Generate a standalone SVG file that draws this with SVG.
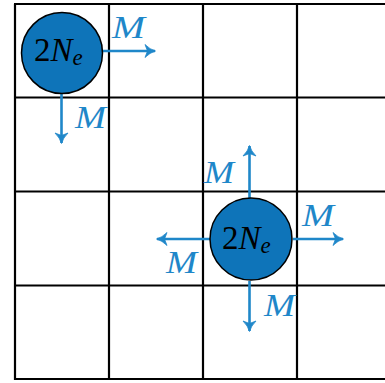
<svg xmlns="http://www.w3.org/2000/svg" width="385" height="383" viewBox="0 0 385 383">
<style>
.grid{stroke:#000;stroke-width:2.2;fill:none}
.node{fill:#0e74b9;stroke:#000;stroke-width:1.5}
.lab{font-family:"Liberation Serif","DejaVu Serif",serif;font-size:33px;fill:#000}
.arr{stroke:#1f87c9;stroke-width:2.6;fill:none;marker-end:url(#ah)}
.m{font-family:"Liberation Serif","DejaVu Serif",serif;font-style:italic;font-size:32px;fill:#1f87c9}
.it{font-style:italic}
</style>
<defs>
<marker id="ah" markerUnits="userSpaceOnUse" markerWidth="16" markerHeight="16" viewBox="-12 -8 14 16" refX="0" refY="0" orient="auto">
<path d="M-10,-6.5 Q-5,-1.5 0.5,0 Q-5,1.5 -10,6.5 L-7.5,0 Z" fill="#1f87c9" stroke="#1f87c9" stroke-width="0.8" stroke-linejoin="round"/>
</marker>
</defs>
<g id="grid" class="grid">
<line x1="15" y1="4" x2="15" y2="380"/>
<line x1="109" y1="4" x2="109" y2="380"/>
<line x1="203" y1="4" x2="203" y2="380"/>
<line x1="297" y1="4" x2="297" y2="380"/>
<line x1="14" y1="4" x2="385" y2="4"/>
<line x1="14" y1="97.5" x2="385" y2="97.5"/>
<line x1="14" y1="191.5" x2="385" y2="191.5"/>
<line x1="14" y1="285.5" x2="385" y2="285.5"/>
<line x1="14" y1="379" x2="385" y2="379"/>
</g>
<g id="connectors">
<line class="arr" x1="103" y1="51" x2="155" y2="51"/>
<line class="arr" x1="61.5" y1="93" x2="61.5" y2="143"/>
<line class="arr" x1="249.5" y1="198" x2="249.5" y2="146"/>
<line class="arr" x1="293" y1="239" x2="343" y2="239"/>
<line class="arr" x1="210" y1="239" x2="157" y2="239"/>
<line class="arr" x1="249.5" y1="281" x2="249.5" y2="331"/>
<text class="m" x="112" y="38" textLength="33" lengthAdjust="spacingAndGlyphs">M</text>
<text class="m" x="75" y="128" textLength="31" lengthAdjust="spacingAndGlyphs">M</text>
<text class="m" x="204" y="183" textLength="30" lengthAdjust="spacingAndGlyphs">M</text>
<text class="m" x="302" y="226" textLength="32" lengthAdjust="spacingAndGlyphs">M</text>
<text class="m" x="166" y="273" textLength="31" lengthAdjust="spacingAndGlyphs">M</text>
<text class="m" x="264" y="316" textLength="31" lengthAdjust="spacingAndGlyphs">M</text>
</g>
<g id="node1">
<circle class="node" cx="62" cy="53" r="40.5"/>
<text class="lab" x="34" y="61">2<tspan class="it">N</tspan><tspan class="it" font-size="23" dy="4">e</tspan></text>
</g>
<g id="node2">
<circle class="node" cx="251" cy="239" r="41"/>
<text class="lab" x="222" y="249">2<tspan class="it">N</tspan><tspan class="it" font-size="23" dy="4">e</tspan></text>
</g>
</svg>
